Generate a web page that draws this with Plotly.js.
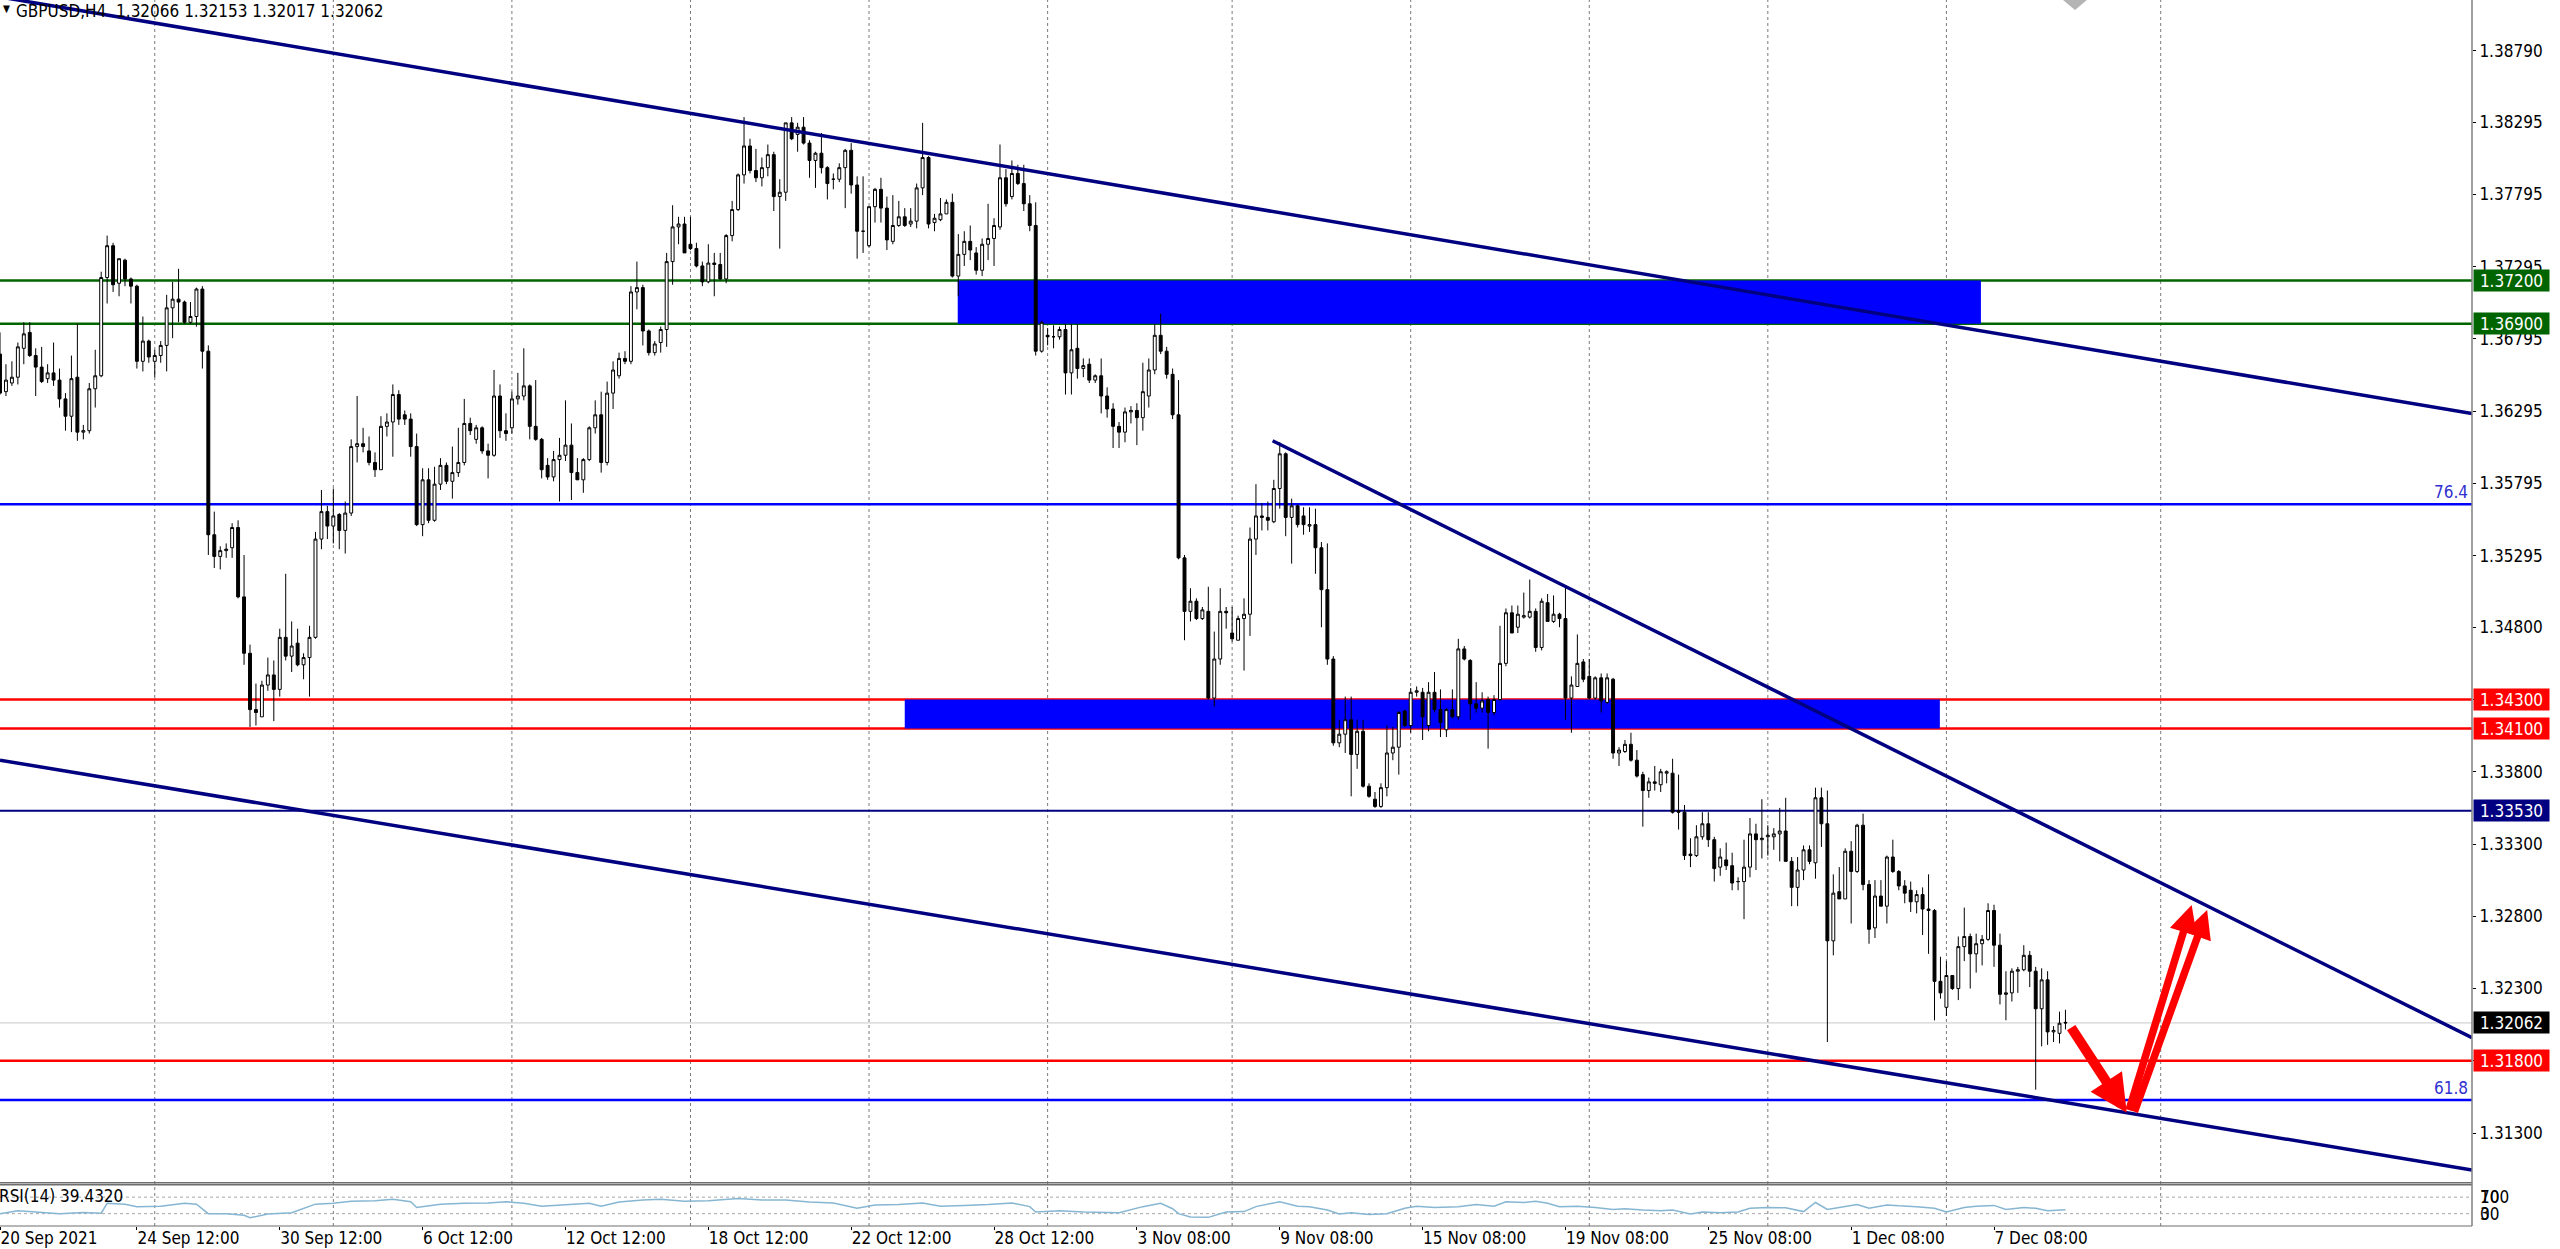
<!DOCTYPE html>
<html><head><meta charset="utf-8">
<script src="https://cdn.plot.ly/plotly-3.0.1.min.js"></script>
<style>html,body{margin:0;padding:0;background:#fff;overflow:hidden}#chart{width:2560px;height:1249px}</style>
</head><body><div id="chart"></div>
<script>
// ---------- DATA (GBPUSD H4) ----------
const symbolName = 'GBPUSD,H4';
const candleOpen = [
1.3669,1.3643,1.3649,1.3653,1.3673,1.3684,1.3668,1.3660,1.3652,1.3656,
1.3651,1.3638,1.3626,1.3653,1.3615,1.3616,1.3645,1.3654,1.3722,1.3744,
1.3718,1.3734,1.3721,1.3716,1.3664,1.3678,1.3664,1.3668,1.3675,1.3701,
1.3707,1.3705,1.3691,1.3695,1.3714,1.3671,1.3544,1.3529,1.3533,1.3535,
1.3549,1.3501,1.3462,1.3423,1.3418,1.3440,1.3447,1.3437,1.3473,1.3460,
1.3469,1.3454,1.3459,1.3473,1.3541,1.3560,1.3550,1.3558,1.3547,1.3559,
1.3605,1.3607,1.3602,1.3594,1.3589,1.3619,1.3622,1.3641,1.3627,1.3624,
1.3605,1.3551,1.3582,1.3554,1.3579,1.3592,1.3581,1.3587,1.3594,1.3621,
1.3610,1.3618,1.3602,1.3599,1.3640,1.3616,1.3618,1.3638,1.3640,1.3647,
1.3619,1.3610,1.3592,1.3584,1.3596,1.3599,1.3606,1.3587,1.3582,1.3596,
1.3618,1.3627,1.3594,1.3642,1.3654,1.3666,1.3664,1.3712,1.3715,1.3685,
1.3670,1.3677,1.3686,1.3733,1.3757,1.3759,1.3745,1.3742,1.3730,1.3719,
1.3732,1.3731,1.3721,1.3751,1.3769,1.3793,1.3813,1.3796,1.3791,1.3798,
1.3807,1.3778,1.3781,1.3829,1.3821,1.3826,1.3815,1.3803,1.3808,1.3798,
1.3790,1.3790,1.3798,1.3810,1.3786,1.3754,1.3744,1.3771,1.3783,1.3770,
1.3747,1.3758,1.3764,1.3759,1.3761,1.3784,1.3805,1.3760,1.3762,1.3766,
1.3774,1.3723,1.3738,1.3747,1.3739,1.3727,1.3745,1.3749,1.3757,1.3791,
1.3778,1.3794,1.3787,1.3773,1.3758,1.3671,1.3682,1.3681,1.3681,1.3686,
1.3656,1.3673,1.3659,1.3662,1.3651,1.3654,1.3640,1.3631,1.3619,1.3615,
1.3629,1.3630,1.3625,1.3640,1.3658,1.3682,1.3671,1.3655,1.3627,1.3528,
1.3491,1.3498,1.3486,1.3491,1.3431,1.3458,1.3491,1.3476,1.3471,1.3486,
1.3489,1.3541,1.3557,1.3556,1.3553,1.3576,1.3600,1.3556,1.3564,1.3557,
1.3550,1.3551,1.3535,1.3506,1.3458,1.3400,1.3406,1.3416,1.3392,1.3408,
1.3370,1.3361,1.3356,1.3369,1.3393,1.3397,1.3422,1.3412,1.3435,1.3435,
1.3412,1.3435,1.3423,1.3409,1.3423,1.3418,1.3465,1.3457,1.3427,1.3424,
1.3430,1.3421,1.3430,1.3455,1.3490,1.3480,1.3487,1.3487,1.3491,1.3466,
1.3497,1.3484,1.3489,1.3486,1.3431,1.3439,1.3456,1.3446,1.3431,1.3445,
1.3428,1.3444,1.3393,1.3394,1.3399,1.3388,1.3378,1.3367,1.3373,1.3371,
1.3379,1.3379,1.3353,1.3352,1.3323,1.3322,1.3335,1.3344,1.3333,1.3314,
1.3319,1.3315,1.3304,1.3304,1.3314,1.3337,1.3333,1.3335,1.3335,1.3337,
1.3339,1.3318,1.3300,1.3312,1.3326,1.3317,1.3362,1.3344,1.3263,1.3297,
1.3292,1.3325,1.3311,1.3343,1.3302,1.3272,1.3294,1.3287,1.3321,1.3311,
1.3301,1.3298,1.3290,1.3295,1.3285,1.3284,1.3235,1.3217,1.3239,1.3230,
1.3259,1.3266,1.3254,1.3261,1.3264,1.3284,1.3260,1.3226,1.3227,1.3242,
1.3243,1.3253,1.3242,1.3216,1.3236,1.3200,1.3199,1.32066];
const candleHigh = [
1.3684,1.3662,1.3664,1.3677,1.3691,1.3691,1.3673,1.3674,1.3662,1.3677,
1.3659,1.3642,1.3668,1.3690,1.3620,1.3649,1.3672,1.3726,1.3751,1.3746,
1.3735,1.3735,1.3722,1.3717,1.3695,1.3679,1.3672,1.3678,1.3710,1.3719,
1.3728,1.3706,1.3705,1.3715,1.3716,1.3675,1.3560,1.3536,1.3538,1.3552,
1.3554,1.3530,1.3468,1.3441,1.3443,1.3459,1.3457,1.3479,1.3517,1.3484,
1.3479,1.3462,1.3481,1.3546,1.3575,1.3564,1.3576,1.3559,1.3567,1.3610,
1.3640,1.3618,1.3612,1.3601,1.3626,1.3628,1.3648,1.3644,1.3630,1.3628,
1.3614,1.3590,1.3590,1.3591,1.3597,1.3594,1.3605,1.3618,1.3638,1.3625,
1.3620,1.3619,1.3607,1.3658,1.3648,1.3628,1.3643,1.3656,1.3673,1.3648,
1.3651,1.3611,1.3597,1.3602,1.3611,1.3637,1.3621,1.3597,1.3597,1.3619,
1.3637,1.3643,1.3650,1.3664,1.3670,1.3671,1.3716,1.3733,1.3717,1.3686,
1.3678,1.3688,1.3739,1.3772,1.3764,1.3764,1.3764,1.3746,1.3733,1.3745,
1.3739,1.3739,1.3752,1.3775,1.3794,1.3833,1.3818,1.3811,1.3805,1.3814,
1.3809,1.3790,1.3829,1.3833,1.3829,1.3833,1.3817,1.3809,1.3822,1.3799,
1.3794,1.3801,1.3811,1.3815,1.3792,1.3792,1.3771,1.3784,1.3791,1.3778,
1.3779,1.3775,1.3770,1.3770,1.3787,1.3829,1.3806,1.3766,1.3777,1.3776,
1.3780,1.3752,1.3754,1.3758,1.3743,1.3749,1.3773,1.3763,1.3814,1.3797,
1.3803,1.3800,1.3800,1.3779,1.3774,1.3692,1.3687,1.3689,1.3688,1.3690,
1.3690,1.3690,1.3666,1.3666,1.3655,1.3666,1.3646,1.3635,1.3622,1.3632,
1.3633,1.3635,1.3663,1.3666,1.3690,1.3697,1.3674,1.3659,1.3651,1.3530,
1.3507,1.3500,1.3494,1.3508,1.3477,1.3507,1.3494,1.3494,1.3488,1.3500,
1.3549,1.3579,1.3566,1.3567,1.3582,1.3608,1.3601,1.3569,1.3565,1.3563,
1.3563,1.3562,1.3539,1.3538,1.3460,1.3416,1.3432,1.3432,1.3416,1.3416,
1.3372,1.3366,1.3372,1.3412,1.3411,1.3422,1.3423,1.3438,1.3439,1.3438,
1.3442,1.3449,1.3437,1.3424,1.3437,1.3472,1.3467,1.3458,1.3442,1.3435,
1.3432,1.3433,1.3481,1.3493,1.3495,1.3495,1.3504,1.3513,1.3493,1.3500,
1.3503,1.3502,1.3490,1.3508,1.3446,1.3475,1.3458,1.3458,1.3446,1.3448,
1.3448,1.3445,1.3397,1.3402,1.3407,1.3395,1.3380,1.3376,1.3384,1.3382,
1.3381,1.3389,1.3378,1.3357,1.3334,1.3343,1.3352,1.3352,1.3335,1.3327,
1.3331,1.3324,1.3307,1.3333,1.3348,1.3344,1.3361,1.3343,1.3341,1.3355,
1.3362,1.3321,1.3321,1.3329,1.3329,1.3369,1.3369,1.3367,1.3309,1.3314,
1.3327,1.3332,1.3344,1.3351,1.3305,1.3305,1.3305,1.3322,1.3333,1.3312,
1.3305,1.3304,1.3298,1.3300,1.3309,1.3285,1.3252,1.3249,1.3239,1.3266,
1.3286,1.3268,1.3268,1.3267,1.3289,1.3288,1.3268,1.3242,1.3244,1.3245,
1.3260,1.3256,1.3245,1.3244,1.3242,1.3204,1.3214,1.32153];
const candleLow = [
1.3641,1.3640,1.3647,1.3648,1.3662,1.3667,1.3640,1.3649,1.3649,1.3647,
1.3632,1.3616,1.3615,1.3609,1.3610,1.3614,1.3632,1.3653,1.3704,1.3712,
1.3709,1.3716,1.3704,1.3659,1.3657,1.3663,1.3653,1.3663,1.3657,1.3680,
1.3691,1.3690,1.3690,1.3688,1.3659,1.3530,1.3521,1.3520,1.3528,1.3528,
1.3500,1.3454,1.3411,1.3412,1.3418,1.3436,1.3415,1.3432,1.3457,1.3449,
1.3453,1.3444,1.3432,1.3472,1.3534,1.3541,1.3538,1.3534,1.3531,1.3557,
1.3594,1.3601,1.3592,1.3584,1.3589,1.3612,1.3598,1.3620,1.3620,1.3598,
1.3550,1.3543,1.3552,1.3553,1.3575,1.3579,1.3569,1.3584,1.3592,1.3613,
1.3607,1.3600,1.3583,1.3598,1.3611,1.3609,1.3614,1.3634,1.3637,1.3610,
1.3609,1.3583,1.3582,1.3581,1.3567,1.3595,1.3568,1.3582,1.3573,1.3595,
1.3614,1.3587,1.3592,1.3631,1.3652,1.3662,1.3662,1.3700,1.3675,1.3668,
1.3668,1.3670,1.3674,1.3717,1.3745,1.3739,1.3741,1.3729,1.3716,1.3718,
1.3709,1.3720,1.3718,1.3747,1.3768,1.3787,1.3794,1.3788,1.3785,1.3792,
1.3768,1.3742,1.3775,1.3817,1.3809,1.3814,1.3791,1.3784,1.3794,1.3776,
1.3783,1.3788,1.3770,1.3780,1.3735,1.3739,1.3743,1.3760,1.3760,1.3741,
1.3745,1.3757,1.3757,1.3757,1.3756,1.3779,1.3756,1.3754,1.3761,1.3766,
1.3722,1.3709,1.3730,1.3734,1.3724,1.3723,1.3734,1.3730,1.3755,1.3771,
1.3776,1.3786,1.3768,1.3754,1.3668,1.3670,1.3675,1.3673,1.3679,1.3641,
1.3641,1.3652,1.3653,1.3649,1.3649,1.3628,1.3625,1.3604,1.3604,1.3608,
1.3621,1.3606,1.3616,1.3632,1.3655,1.3669,1.3652,1.3624,1.3527,1.3471,
1.3484,1.3485,1.3485,1.3430,1.3425,1.3454,1.3479,1.3470,1.3471,1.3450,
1.3474,1.3530,1.3547,1.3547,1.3552,1.3562,1.3543,1.3524,1.3549,1.3544,
1.3546,1.3517,1.3480,1.3454,1.3398,1.3397,1.3393,1.3363,1.3382,1.3369,
1.3362,1.3355,1.3355,1.3363,1.3388,1.3378,1.3411,1.3407,1.3432,1.3402,
1.3408,1.3421,1.3404,1.3404,1.3417,1.3416,1.3457,1.3416,1.3421,1.3421,
1.3396,1.3419,1.3429,1.3453,1.3476,1.3476,1.3486,1.3486,1.3463,1.3464,
1.3484,1.3483,1.3480,1.3416,1.3407,1.3439,1.3442,1.3430,1.3430,1.3421,
1.3427,1.3389,1.3384,1.3393,1.3387,1.3376,1.3342,1.3362,1.3367,1.3366,
1.3372,1.3351,1.3340,1.3319,1.3314,1.3321,1.3333,1.3328,1.3304,1.3308,
1.3312,1.3298,1.3298,1.3278,1.3307,1.3312,1.3320,1.3322,1.3326,1.3318,
1.3318,1.3287,1.3287,1.3305,1.3316,1.3306,1.3328,1.3193,1.3253,1.3292,
1.3292,1.3275,1.3310,1.3298,1.3261,1.3265,1.3287,1.3275,1.3310,1.3298,
1.3289,1.3283,1.3282,1.3267,1.3254,1.3208,1.3223,1.3211,1.3229,1.3222,
1.3249,1.3230,1.3241,1.3246,1.3263,1.3245,1.3219,1.3208,1.3221,1.3227,
1.3242,1.3231,1.3160,1.3190,1.3191,1.3193,1.3192,1.32017];
const candleClose = [
1.3642,1.3651,1.3653,1.3674,1.3683,1.3668,1.3660,1.3650,1.3656,1.3651,
1.3638,1.3626,1.3652,1.3615,1.3616,1.3645,1.3654,1.3722,1.3744,1.3717,
1.3735,1.3721,1.3716,1.3664,1.3678,1.3667,1.3668,1.3675,1.3701,1.3707,
1.3705,1.3691,1.3695,1.3714,1.3671,1.3544,1.3529,1.3533,1.3534,1.3549,
1.3501,1.3462,1.3423,1.3421,1.3440,1.3447,1.3437,1.3473,1.3460,1.3467,
1.3454,1.3459,1.3473,1.3541,1.3560,1.3550,1.3557,1.3547,1.3559,1.3605,
1.3607,1.3605,1.3594,1.3589,1.3619,1.3622,1.3641,1.3624,1.3624,1.3605,
1.3551,1.3582,1.3554,1.3579,1.3592,1.3581,1.3587,1.3594,1.3621,1.3616,
1.3618,1.3602,1.3599,1.3640,1.3616,1.3614,1.3638,1.3640,1.3647,1.3619,
1.3610,1.3589,1.3584,1.3596,1.3599,1.3606,1.3587,1.3582,1.3596,1.3618,
1.3627,1.3594,1.3642,1.3658,1.3666,1.3664,1.3712,1.3715,1.3685,1.3670,
1.3676,1.3686,1.3733,1.3757,1.3759,1.3739,1.3742,1.3730,1.3719,1.3732,
1.3731,1.3721,1.3751,1.3769,1.3793,1.3813,1.3796,1.3791,1.3798,1.3807,
1.3778,1.3781,1.3829,1.3818,1.3826,1.3815,1.3803,1.3808,1.3798,1.3787,
1.3790,1.3798,1.3810,1.3786,1.3754,1.3754,1.3771,1.3783,1.3770,1.3748,
1.3758,1.3764,1.3758,1.3761,1.3784,1.3805,1.3759,1.3763,1.3766,1.3774,
1.3723,1.3738,1.3747,1.3741,1.3727,1.3745,1.3749,1.3758,1.3791,1.3773,
1.3794,1.3787,1.3773,1.3758,1.3671,1.3691,1.3681,1.3681,1.3686,1.3656,
1.3672,1.3659,1.3661,1.3651,1.3654,1.3640,1.3631,1.3619,1.3615,1.3629,
1.3630,1.3625,1.3643,1.3658,1.3682,1.3671,1.3655,1.3627,1.3528,1.3491,
1.3498,1.3486,1.3492,1.3431,1.3458,1.3491,1.3490,1.3472,1.3486,1.3489,
1.3541,1.3557,1.3556,1.3554,1.3576,1.3600,1.3556,1.3564,1.3551,1.3551,
1.3551,1.3535,1.3506,1.3458,1.3400,1.3406,1.3416,1.3392,1.3408,1.3370,
1.3363,1.3356,1.3369,1.3393,1.3397,1.3421,1.3412,1.3435,1.3436,1.3418,
1.3435,1.3423,1.3414,1.3423,1.3418,1.3465,1.3458,1.3427,1.3424,1.3429,
1.3421,1.3430,1.3455,1.3490,1.3476,1.3489,1.3488,1.3491,1.3466,1.3498,
1.3484,1.3489,1.3486,1.3431,1.3440,1.3455,1.3444,1.3431,1.3445,1.3429,
1.3445,1.3393,1.3395,1.3399,1.3388,1.3377,1.3367,1.3373,1.3372,1.3380,
1.3380,1.3352,1.3352,1.3322,1.3322,1.3335,1.3344,1.3333,1.3313,1.3321,
1.3315,1.3303,1.3304,1.3314,1.3337,1.3333,1.3334,1.3336,1.3337,1.3339,
1.3318,1.3300,1.3312,1.3326,1.3318,1.3362,1.3344,1.3263,1.3296,1.3292,
1.3325,1.3311,1.3343,1.3302,1.3271,1.3294,1.3287,1.3321,1.3311,1.3301,
1.3296,1.3290,1.3295,1.3285,1.3284,1.3235,1.3227,1.3239,1.3230,1.3259,
1.3266,1.3254,1.3261,1.3264,1.3284,1.3260,1.3226,1.3227,1.3242,1.3243,
1.3253,1.3242,1.3216,1.3236,1.3200,1.3201,1.3206,1.32062];

// RSI(14) readings (bar index, value)
const rsiBar = [0,3,6,10,14,17,18,21,23,27,31,33,35,38,41,42,45,49,53,56,59,63,66,69,70,74,78,82,85,88,91,95,99,101,104,108,111,115,119,124,128,132,136,140,144,147,151,155,158,162,166,170,173,174,178,182,188,192,195,197,198,200,203,206,209,211,215,218,220,223,225,227,230,233,236,238,241,245,248,251,253,256,258,260,262,265,268,271,273,276,279,281,284,286,289,292,294,297,300,303,305,307,310,312,314,317,319,322,325,327,330,332,335,337,340,342,344,347];
const rsiVal = [30,37,34,30,33,31,55,53,47,48,55,53,30,30,26,20,29,32,53,55,60,61,65,59,45,53,55,56,59,55,48,51,55,48,58,63,65,60,61,67,63,63,58,56,43,51,52,56,48,50,52,56,47,34,37,34,32,47,55,42,30,22,21,34,35,47,59,48,47,39,29,32,28,30,43,48,45,47,52,48,59,57,60,55,47,48,45,40,42,39,37,39,29,34,32,34,43,45,44,35,57,40,47,52,43,51,49,47,43,34,45,48,50,40,45,43,37,39.432];
const rsiLevels = [70, 30];

// axis labels
const timeTickBars = [0,23,47,71,95,119,143,167,191,215,239,263,287,311,335];
const timeTickLabels = ['20 Sep 2021','24 Sep 12:00','30 Sep 12:00','6 Oct 12:00','12 Oct 12:00','18 Oct 12:00','22 Oct 12:00','28 Oct 12:00','3 Nov 08:00','9 Nov 08:00','15 Nov 08:00','19 Nov 08:00','25 Nov 08:00','1 Dec 08:00','7 Dec 08:00'];
const gridBars = [26,56,86,116,146,176,207,237,267,297,327,363];
const priceTicks = [1.38790,1.38295,1.37795,1.37295,1.36795,1.36295,1.35795,1.35295,1.34800,1.34300,1.33800,1.33300,1.32800,1.32300,1.31800,1.31300];

// chart objects
const levelPrices = [1.37200,1.36900,1.34300,1.34100,1.33530,1.31800];
const levelColors = ['#006400','#006400','#ff0000','#ff0000','#000080','#ff0000'];
const levelWidths = [2.5,2.5,2.5,2.5,2,2.5];
const fibPrices = [1.35651,1.31529];
const fibLabels = ['76.4','61.8'];
const zoneStart = [160.9,152.0];
const zoneEnd = [332.8,325.9];
const zoneLow = [1.36900,1.34100];
const zoneHigh = [1.37200,1.34300];
const trendStartBar = [0,0,213.8];
const trendStartPrice = [1.39161,1.33880,1.36090];
const trendEndBar = [415.3,415.3,415.3];
const trendEndPrice = [1.36278,1.31045,1.31960];
const arrowTailBar = [347.8,357.6,358.5];
const arrowTailPrice = [1.32040,1.31448,1.31437];
const arrowHeadBar = [357.3,368.2,370.8];
const arrowHeadPrice = [1.31440,1.32878,1.32843];
const arrowWidths = [10,7.5,7.5];
const shiftMarkerBar = 348.6;

// ---------- LAYOUT CONSTANTS ----------
const FONT = '"DejaVu Sans Condensed", "DejaVu Sans", sans-serif';
const FS = 17;
const W = 2560, H = 1249;
const M = {l:0, r:88, t:0, b:23};
const plotH = H - M.t - M.b;               // 1226
const mainBottomPx = 1182.8, rsiTopPx = 1184.8;
const mainDomain = [(plotH - mainBottomPx) / plotH, 1];
const rsiDomain = [0, (plotH - rsiTopPx) / plotH];
const priceRange = [1.309558, 1.391401];
const xRange = [0, 415.3];

const n = candleClose.length;
const bars = candleClose.map((_, i) => i);
const last = n - 1;

const traces = [
  {
    type: 'candlestick', x: bars, open: candleOpen, high: candleHigh, low: candleLow, close: candleClose,
    xaxis: 'x', yaxis: 'y', whiskerwidth: 0, hoverinfo: 'skip',
    increasing: {line: {color: '#000000', width: 1}, fillcolor: '#ffffff'},
    decreasing: {line: {color: '#000000', width: 1}, fillcolor: '#000000'}
  },
  {
    type: 'scatter', mode: 'lines', x: rsiBar, y: rsiVal, xaxis: 'x2', yaxis: 'y2',
    line: {color: '#86b6d2', width: 1.5}, hoverinfo: 'skip'
  }
];

const shapes = [];
gridBars.forEach(g => shapes.push({type:'line', xref:'x', yref:'paper', x0:g, x1:g, y0:0, y1:1,
  line:{color:'#7a7a7a', width:1, dash:'dot'}, layer:'below'}));
zoneStart.forEach((s, i) => shapes.push({type:'rect', xref:'x', yref:'y', x0:s, x1:zoneEnd[i],
  y0:zoneLow[i], y1:zoneHigh[i], fillcolor:'#0000ff', line:{width:0}, layer:'below'}));
shapes.push({type:'line', xref:'paper', yref:'y', x0:0, x1:1, y0:candleClose[last], y1:candleClose[last],
  line:{color:'#c8c8c8', width:1}, layer:'below'});
levelPrices.forEach((p, i) => shapes.push({type:'line', xref:'paper', yref:'y', x0:0, x1:1, y0:p, y1:p,
  line:{color:levelColors[i], width:levelWidths[i]}, layer:'below'}));
fibPrices.forEach(p => shapes.push({type:'line', xref:'paper', yref:'y', x0:0, x1:1, y0:p, y1:p,
  line:{color:'#0000ff', width:2.5}, layer:'below'}));
trendStartBar.forEach((b, i) => shapes.push({type:'line', xref:'x', yref:'y', x0:b, y0:trendStartPrice[i],
  x1:trendEndBar[i], y1:trendEndPrice[i], line:{color:'#000080', width:3.5}, layer:'above'}));
rsiLevels.forEach(v => shapes.push({type:'line', xref:'paper', yref:'y2', x0:0, x1:1, y0:v, y1:v,
  line:{color:'#a8a8a8', width:1, dash:'dot'}, layer:'below'}));
shapes.push({type:'line', xref:'paper', yref:'paper', x0:0, x1:1, y0:mainDomain[0], y1:mainDomain[0], line:{color:'#6e6e6e', width:1.5}});
shapes.push({type:'line', xref:'paper', yref:'paper', x0:0, x1:1, y0:rsiDomain[1], y1:rsiDomain[1], line:{color:'#6e6e6e', width:1.5}});
shapes.push({type:'line', xref:'paper', yref:'paper', x0:0, x1:1, y0:0, y1:0, line:{color:'#6e6e6e', width:1}});
shapes.push({type:'line', xref:'paper', yref:'paper', x0:1, x1:1, y0:0, y1:1, line:{color:'#808080', width:1.5}});
shapes.push({type:'path', xref:'x', yref:'y',
  path:`M ${shiftMarkerBar-2} ${priceRange[1]} L ${shiftMarkerBar+2} ${priceRange[1]} L ${shiftMarkerBar} ${priceRange[1]-0.0007} Z`,
  fillcolor:'#b4b4b4', line:{width:0}, layer:'above'});

const annotations = [];
levelPrices.forEach((p, i) => annotations.push({xref:'paper', yref:'y', x:1, y:p, xanchor:'left', yanchor:'middle',
  xshift:1, text:p.toFixed(5), showarrow:false, bgcolor:levelColors[i], borderpad:2, width:71, height:17,
  font:{family:FONT, size:FS, color:'#ffffff'}}));
annotations.push({xref:'paper', yref:'y', x:1, y:candleClose[last], xanchor:'left', yanchor:'middle', xshift:1,
  text:candleClose[last].toFixed(5), showarrow:false, bgcolor:'#000000', borderpad:2, width:71, height:17,
  font:{family:FONT, size:FS, color:'#ffffff'}});
fibPrices.forEach((p, i) => annotations.push({xref:'paper', yref:'y', x:1, y:p, xanchor:'right', yanchor:'bottom',
  xshift:-2, yshift:0, text:fibLabels[i], showarrow:false, font:{family:FONT, size:FS, color:'#3030d0'}}));
arrowTailBar.forEach((b, i) => annotations.push({xref:'x', yref:'y', axref:'x', ayref:'y',
  x:arrowHeadBar[i], y:arrowHeadPrice[i], ax:b, ay:arrowTailPrice[i], text:'', showarrow:true,
  arrowhead:2, arrowsize:0.75, arrowwidth:arrowWidths[i], arrowcolor:'#ff0000', standoff:0, startstandoff:0}));
annotations.push({xref:'paper', yref:'paper', x:0, y:1, xanchor:'left', yanchor:'top', xshift:1, yshift:-1,
  text:'\u25BC', showarrow:false, font:{family:FONT, size:10, color:'#000'}});
annotations.push({xref:'paper', yref:'paper', x:0, y:1, xanchor:'left', yanchor:'top', xshift:14, yshift:1,
  text: symbolName + '\u00A0\u00A0' + [candleOpen[last], candleHigh[last], candleLow[last], candleClose[last]].map(v => v.toFixed(5)).join(' '),
  showarrow:false, font:{family:FONT, size:FS, color:'#000'}});
annotations.push({xref:'paper', yref:'y2', x:0, y:100, xanchor:'left', yanchor:'top', xshift:-3, yshift:1,
  text:'RSI(14) ' + rsiVal[rsiVal.length-1].toFixed(4), showarrow:false, font:{family:FONT, size:FS, color:'#000'}});
[['100',70],['70',70],['0',30],['30',30]].forEach(([t, v]) => annotations.push({xref:'paper', yref:'y2', x:1, y:v,
  xanchor:'left', yanchor:'middle', xshift:6, text:t, showarrow:false, font:{family:FONT, size:FS, color:'#000'}}));

const layout = {
  width: W, height: H, margin: Object.assign({autoexpand:false}, M),
  paper_bgcolor: '#ffffff', plot_bgcolor: '#ffffff', showlegend: false,
  font: {family: FONT, size: FS, color: '#000'},
  xaxis: {domain:[0,1], anchor:'y', range:xRange, showticklabels:false, ticks:'', showgrid:false, zeroline:false,
    showline:false, rangeslider:{visible:false}, fixedrange:true},
  xaxis2: {domain:[0,1], anchor:'y2', matches:'x', tickmode:'array', tickvals:timeTickBars, ticktext:timeTickLabels,
    ticks:'outside', ticklen:3, tickcolor:'#000', ticklabelposition:'outside right', ticklabelstandoff:-3,
    showgrid:false, zeroline:false, showline:false, automargin:false, tickfont:{family:FONT, size:FS, color:'#000'}},
  yaxis: {domain:mainDomain, anchor:'x', range:priceRange, side:'right', tickmode:'array', tickvals:priceTicks,
    ticktext:priceTicks.map(v => v.toFixed(5)), ticks:'outside', ticklen:3, tickcolor:'#000', showgrid:false,
    zeroline:false, showline:false, automargin:false, fixedrange:true, tickfont:{family:FONT, size:FS, color:'#000'}},
  yaxis2: {domain:rsiDomain, anchor:'x2', range:[0,100], side:'right', showticklabels:false, ticks:'',
    showgrid:false, zeroline:false, showline:false, automargin:false, fixedrange:true},
  shapes: shapes, annotations: annotations
};

Plotly.newPlot('chart', traces, layout, {staticPlot:true, displayModeBar:false});
</script></body></html>
